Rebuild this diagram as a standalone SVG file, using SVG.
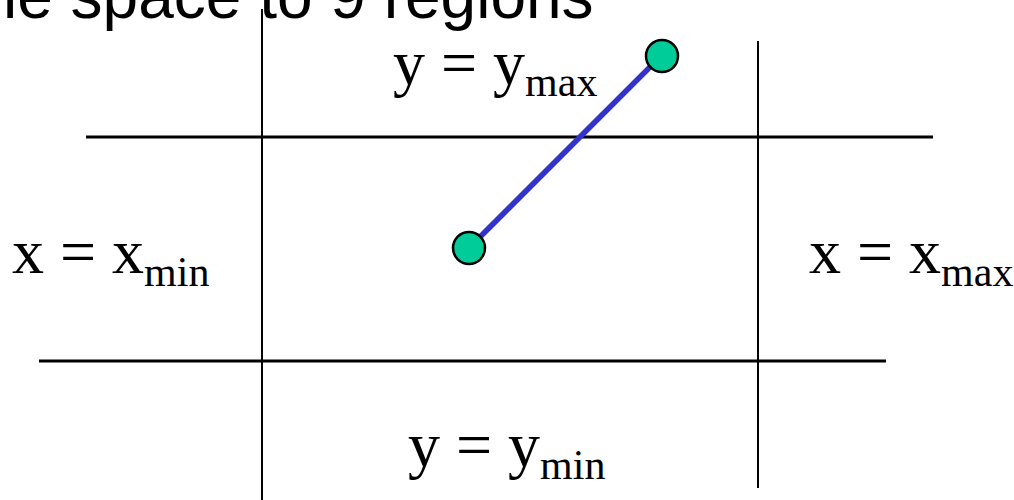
<svg xmlns="http://www.w3.org/2000/svg" width="1014" height="500" viewBox="0 0 1014 500">
<style>
.grid{stroke:#000;fill:none}
.v{stroke-width:2}
.h{stroke-width:3}
.seg{stroke:#3333cc;stroke-width:5.5;fill:none}
.pt{fill:#00cc99;stroke:#000;stroke-width:2.5}
.lbl{font-family:"Liberation Serif","Times New Roman",serif;font-size:64px;fill:#000}
.sub{font-size:42px}
.title{font-family:"Liberation Sans",Arial,sans-serif;font-size:64px;fill:#000}
</style>
<rect width="1014" height="500" fill="#fff"/>
<text id="title" class="title" x="3" y="18">le space to 9 regions</text>
<g id="grid" class="grid">
<line class="v" x1="262" y1="9" x2="262" y2="500"/>
<line class="v" x1="758" y1="41" x2="758" y2="488"/>
<line class="h" x1="86" y1="137" x2="933" y2="137"/>
<line class="h" x1="39" y1="361" x2="886" y2="361"/>
</g>
<g id="connectors">
<line class="seg" x1="662" y1="55" x2="469" y2="248"/>
</g>
<g id="p1"><circle class="pt" cx="662" cy="56" r="16"/></g>
<g id="p2"><circle class="pt" cx="469" cy="248" r="16"/></g>
<g id="labels">
<text class="lbl" x="393" y="84">y = y<tspan class="sub" dy="12">max</tspan></text>
<text class="lbl" x="12" y="273">x = x<tspan class="sub" dy="13">min</tspan></text>
<text class="lbl" x="809" y="273">x = x<tspan class="sub" dy="13">max</tspan></text>
<text class="lbl" x="408" y="466">y = y<tspan class="sub" dy="13">min</tspan></text>
</g>
</svg>
